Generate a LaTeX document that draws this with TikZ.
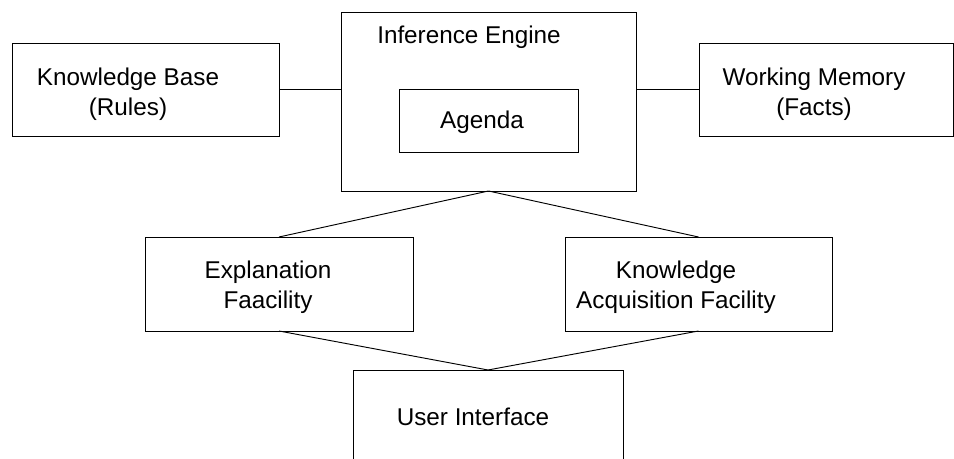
\documentclass[tikz,border=0pt]{standalone}
\usepackage{fontspec}
\setmainfont{Liberation Sans}
\usepackage{tikz}
\usetikzlibrary{positioning,calc}

\begin{document}
\begin{tikzpicture}[
      x=0.75pt, y=-0.75pt,
      font=\fontsize{18.2pt}{22.5pt}\selectfont,
      line width=0.7pt,
      box/.style={draw, inner sep=0pt, outer sep=0pt, anchor=center},
      widebox/.style={box, minimum width=200.25pt, minimum height=69.75pt},
      txt/.style={align=center, inner sep=0pt}]

    \clip (0,0) rectangle (954,459);

    % top row
    \node[widebox] (kb) at (145.5,89.5) {};
    \node[txt] (kbtext) at (128,94) {Knowledge Base\\(Rules)};

    \node[box, minimum width=221.25pt, minimum height=134.25pt]
      (engine) at (488.5,101.5) {};
    \node[txt] (enginetext) at (469,37) {Inference Engine};
    \node[box, minimum width=134.25pt, minimum height=47.25pt]
      (agenda) at (488.5,120.5) {};
    \node[txt] (agendatext) at (482,122) {Agenda};

    \node[box, minimum width=190.5pt, minimum height=69.75pt]
      (wm) at (826,89.5) {};
    \node[txt] (wmtext) at (814,94) {Working Memory\\(Facts)};

    \draw (kb.east) -- (kb.east -| engine.west);
    \draw (engine.east |- wm.west) -- (wm.west);

    % facilities
    \node[widebox, minimum width=201pt, minimum height=70.5pt]
      (expl) at (279,284) {};
    \node[txt] (expltext) at (268,287) {Explanation\\Faacility};

    \node[widebox, minimum height=70.5pt] (kaf) at (698.5,284) {};
    \node[txt] (kaftext) at (676,287) {Knowledge\\Acquisition Facility};

    \draw (engine.south) -- (expl.north);
    \draw (engine.south) -- (kaf.north);

    % user interface
    \node[box, minimum width=202.5pt, minimum height=75pt]
      (ui) at (488,420) {};
    \node[txt] (uitext) at (473,417) {User Interface};

    \draw (expl.south) -- (ui.north);
    \draw (kaf.south) -- (ui.north);
  \end{tikzpicture}
\end{document}
